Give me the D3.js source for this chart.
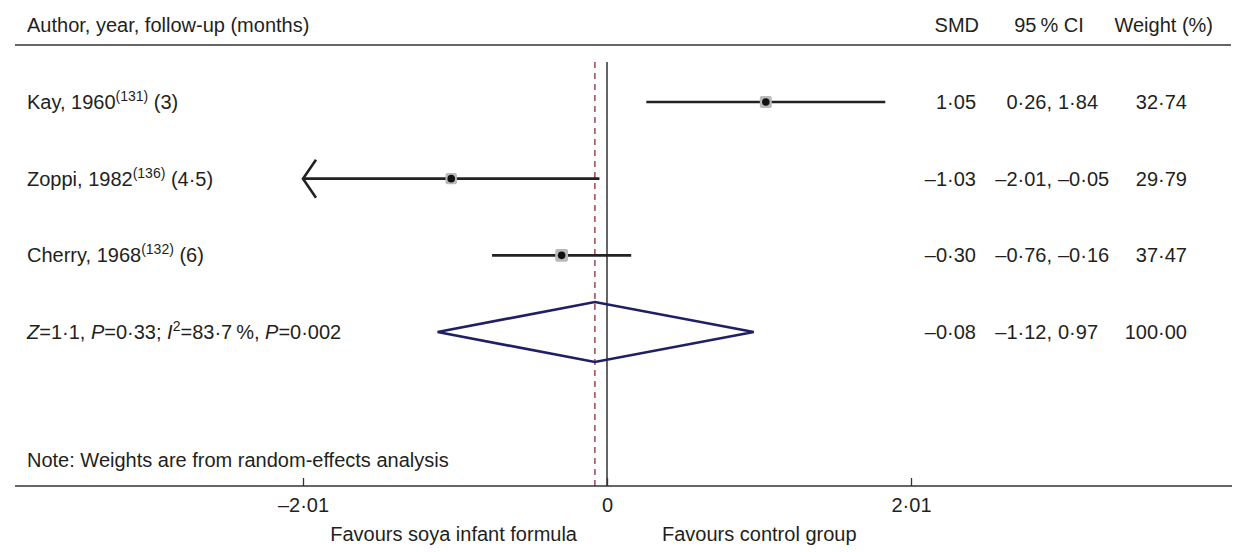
<!DOCTYPE html>
<html>
<head>
<meta charset="utf-8">
<script src="https://cdn.jsdelivr.net/npm/d3@7"></script>
<style>
  body { margin: 0; background: #fff; }
  svg text { font-family: "Liberation Sans", Arial, sans-serif; font-size: 20px; fill: #231f20; }
</style>
</head>
<body>
<script>
// study rows
const authors = ["Kay, 1960", "Zoppi, 1982", "Cherry, 1968"];
const refs = ["(131)", "(136)", "(132)"];
const followUp = ["(3)", "(4·5)", "(6)"];
const smd = [1.05, -1.03, -0.30];
const ciLow = [0.26, -2.01, -0.76];
const ciHigh = [1.84, -0.05, 0.16];          // as plotted
const ciLabels = [["0·26", "1·84"], ["–2·01", "–0·05"], ["–0·76", "–0·16"]]; // as printed
const weights = [32.74, 29.79, 37.47];

// pooled estimate
const pooled = { smd: -0.08, lo: -1.12, hi: 0.97, weight: 100.00 };

const ticks = [-2.01, 0, 2.01];

const width = 1238;
const height = 552;

const fmt = v => d3.format(".2f")(v).replace(".", "·").replace("-", "–").replace("−", "–");

const svg = d3.select("body")
    .append("svg")
    .attr("width", width)
    .attr("height", height);

const x = d3.scaleLinear()
    .domain([ticks[0], ticks[2]])
    .range([303, 911]);

const y = d3.scaleLinear()
    .domain([0, 3])
    .range([102, 332]);

const axisY = 486;
const supShift = 8;

// header
svg.append("text").attr("x", 27).attr("y", 32).text("Author, year, follow-up (months)");
svg.append("text").attr("x", 979).attr("y", 32).attr("text-anchor", "end").text("SMD");
svg.append("text").attr("x", 1049).attr("y", 32).attr("text-anchor", "middle").text("95\u2009% CI");
svg.append("text").attr("x", 1213).attr("y", 32).attr("text-anchor", "end").text("Weight (%)");
svg.append("line")
    .attr("x1", 15).attr("x2", 1231)
    .attr("y1", 45).attr("y2", 45)
    .attr("stroke", "#333").attr("stroke-width", 1.5);

// zero line and pooled (dashed) line
svg.append("line")
    .attr("x1", x(0)).attr("x2", x(0))
    .attr("y1", 62).attr("y2", axisY)
    .attr("stroke", "#111").attr("stroke-width", 1.3);
svg.append("line")
    .attr("x1", x(pooled.smd)).attr("x2", x(pooled.smd))
    .attr("y1", 62).attr("y2", axisY)
    .attr("stroke", "#8e2a3a").attr("stroke-width", 1.3)
    .attr("stroke-dasharray", "6,5");

// study rows
const rows = svg.append("g")
    .selectAll("g")
    .data(smd.map((d, i) => ({ i, smd: d, lo: ciLow[i], hi: ciHigh[i], w: weights[i] })))
    .join("g")
    .attr("transform", d => `translate(0,${y(d.i)})`);

rows.append("line")
    .attr("x1", d => x(Math.max(d.lo, ticks[0])))
    .attr("x2", d => x(d.hi))
    .attr("stroke", "#222").attr("stroke-width", 2.6);

rows.filter(d => d.lo <= ticks[0])
    .append("path")
    .attr("d", d => {
        const tx = x(ticks[0]);
        return `M${tx + 13},-19L${tx},0L${tx + 13},19`;
    })
    .attr("fill", "none").attr("stroke", "#222").attr("stroke-width", 2.6);

rows.append("rect")
    .attr("x", d => x(d.smd) - 6 * Math.sqrt(d.w / 33))
    .attr("y", d => -6 * Math.sqrt(d.w / 33))
    .attr("width", d => 12 * Math.sqrt(d.w / 33))
    .attr("height", d => 12 * Math.sqrt(d.w / 33))
    .attr("rx", 2)
    .attr("fill", "#b9b9b9");

rows.append("circle")
    .attr("cx", d => x(d.smd))
    .attr("r", 3.8)
    .attr("fill", "#111");

// left labels with superscript references
const lab = rows.append("text")
    .attr("x", 27)
    .attr("dy", "0.35em");
lab.append("tspan").text(d => authors[d.i]);
lab.append("tspan").attr("font-size", "14px").attr("dy", -supShift).text(d => refs[d.i]);
lab.append("tspan").attr("dy", supShift).text(d => " " + followUp[d.i]);

// right columns
rows.append("text").attr("x", 976).attr("dy", "0.35em").attr("text-anchor", "end")
    .text(d => fmt(d.smd));
rows.append("text").attr("x", 1052).attr("dy", "0.35em").attr("text-anchor", "end")
    .text(d => ciLabels[d.i][0] + ",");
rows.append("text").attr("x", 1058).attr("dy", "0.35em")
    .text(d => ciLabels[d.i][1]);
rows.append("text").attr("x", 1187).attr("dy", "0.35em").attr("text-anchor", "end")
    .text(d => fmt(d.w));

// pooled diamond
const py = y(3);
svg.append("path")
    .attr("d", `M${x(pooled.lo)},${py}L${x(pooled.smd)},${py - 30}L${x(pooled.hi)},${py}L${x(pooled.smd)},${py + 30}Z`)
    .attr("fill", "none")
    .attr("stroke", "#1f1f66")
    .attr("stroke-width", 2.6)
    .attr("stroke-linejoin", "miter");

const stat = svg.append("text").attr("x", 27).attr("y", py).attr("dy", "0.35em");
stat.append("tspan").attr("font-style", "italic").text("Z");
stat.append("tspan").text("=1·1, ");
stat.append("tspan").attr("font-style", "italic").text("P");
stat.append("tspan").text("=0·33; ");
stat.append("tspan").attr("font-style", "italic").text("I");
stat.append("tspan").attr("font-size", "14px").attr("dy", -supShift).text("2");
stat.append("tspan").attr("dy", supShift).text("=83·7\u2009%, ");
stat.append("tspan").attr("font-style", "italic").text("P");
stat.append("tspan").text("=0·002");

svg.append("text").attr("x", 976).attr("y", py).attr("dy", "0.35em").attr("text-anchor", "end").text(fmt(pooled.smd));
svg.append("text").attr("x", 1052).attr("y", py).attr("dy", "0.35em").attr("text-anchor", "end").text(fmt(pooled.lo) + ",");
svg.append("text").attr("x", 1058).attr("y", py).attr("dy", "0.35em").text(fmt(pooled.hi));
svg.append("text").attr("x", 1187).attr("y", py).attr("dy", "0.35em").attr("text-anchor", "end").text(fmt(pooled.weight));

// note
svg.append("text").attr("x", 27).attr("y", 467).text("Note: Weights are from random-effects analysis");

// x axis
svg.append("line")
    .attr("x1", 15).attr("x2", 1232)
    .attr("y1", axisY).attr("y2", axisY)
    .attr("stroke", "#333").attr("stroke-width", 1.5);

const axis = svg.append("g")
    .attr("transform", `translate(0,${axisY})`)
    .call(d3.axisBottom(x)
        .tickValues(ticks)
        .tickSize(-8)
        .tickPadding(12)
        .tickFormat(d => d === 0 ? "0" : fmt(d)));
axis.select(".domain").remove();
axis.selectAll(".tick line").attr("stroke", "#333").attr("stroke-width", 1.3);
axis.selectAll(".tick text")
    .attr("font-size", null)
    .attr("fill", null);
axis.attr("font-size", null).attr("font-family", null);

svg.append("text").attr("x", x(0) - 30).attr("y", 541).attr("text-anchor", "end").text("Favours soya infant formula");
svg.append("text").attr("x", x(0) + 55).attr("y", 541).text("Favours control group");
</script>
</body>
</html>
